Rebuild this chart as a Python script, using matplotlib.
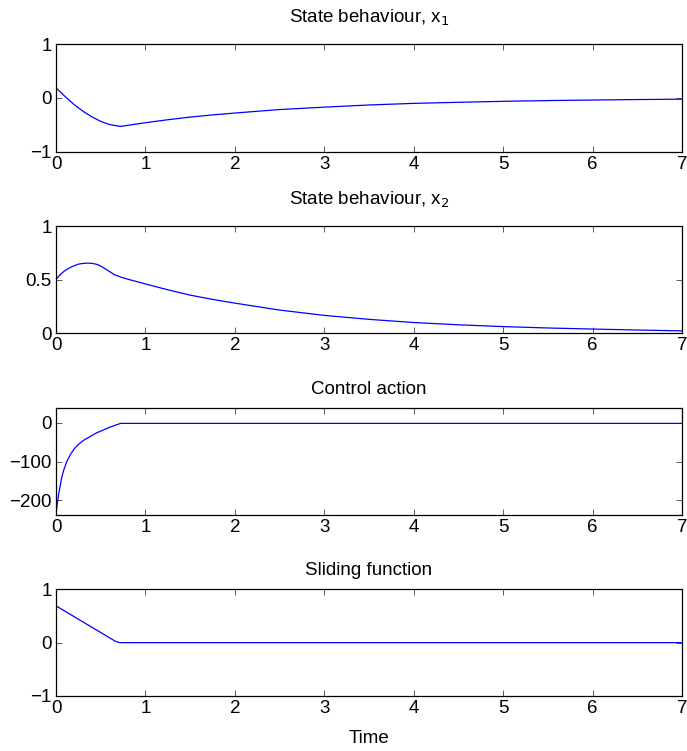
import matplotlib
matplotlib.use("Agg")
import matplotlib.pyplot as plt

plt.rcParams['font.family'] = ['Liberation Sans', 'DejaVu Sans']

# ---- data ----
t_x1 = [0, 0.1, 0.2, 0.3, 0.4, 0.5, 0.6, 0.72, 0.8, 1.0, 1.25, 1.5, 1.75, 2.0,
        2.5, 3.0, 3.5, 4.0, 4.5, 5.0, 5.5, 6.0, 6.5, 7.0]
x1 = [0.19, 0.03, -0.12, -0.245, -0.35, -0.435, -0.495, -0.53, -0.51, -0.46,
      -0.405, -0.355, -0.315, -0.28, -0.215, -0.17, -0.13, -0.10, -0.08,
      -0.062, -0.048, -0.038, -0.029, -0.022]

t_x2 = [0, 0.05, 0.1, 0.15, 0.2, 0.25, 0.3, 0.35, 0.4, 0.45, 0.5, 0.55, 0.6,
        0.65, 0.72, 0.8, 1.0, 1.25, 1.5, 1.75, 2.0, 2.5, 3.0, 3.5, 4.0, 4.5,
        5.0, 5.5, 6.0, 6.5, 7.0]
x2 = [0.50, 0.55, 0.585, 0.61, 0.63, 0.645, 0.652, 0.655, 0.653, 0.645, 0.628,
      0.602, 0.575, 0.548, 0.525, 0.505, 0.46, 0.405, 0.355, 0.315, 0.28,
      0.215, 0.165, 0.128, 0.098, 0.077, 0.06, 0.047, 0.037, 0.028, 0.02]

t_u = [0, 0.01, 0.03, 0.06, 0.085, 0.12, 0.16, 0.2, 0.234, 0.3, 0.383, 0.45,
       0.531, 0.6, 0.68, 0.725, 7.0]
u = [-238, -215, -184, -145, -123, -100, -82, -68, -59, -46, -35, -26, -18,
     -11, -4.3, -1, -1]

t_s = [0, 0.66, 0.70, 0.72, 7.0]
s = [0.69, 0.03, 0.004, 0.0, 0.0]

titles = ['State behaviour, x$_1$', 'State behaviour, x$_2$',
          'Control action', 'Sliding function']
ylims = [(-1, 1), (0, 1), (-238, 38), (-1, 1)]
yticks = [[-1, 0, 1], [0, 0.5, 1], [-200, -100, 0], [-1, 0, 1]]
ytick_labels = [['\u22121', '0', '1'], ['0', '0.5', '1'],
                ['\u2212200', '\u2212100', '0'], ['\u22121', '0', '1']]
xticks = [0, 1, 2, 3, 4, 5, 6, 7]

series = [(t_x1, x1), (t_x2, x2), (t_u, u), (t_s, s)]

W, H = 687, 751
fig = plt.figure(figsize=(W / 100, H / 100), dpi=100)

left = 56 / W
width = (682 - 56) / W
tops = [44.3, 226.3, 408.3, 589.3]
bots = [151.7, 333, 515, 696]
title_pads = [15.5, 15.5, 10.5, 10.5]

for i in range(4):
    b = 1 - bots[i] / H
    h = (bots[i] - tops[i]) / H
    ax = fig.add_axes([left, b, width, h])
    tt, vv = series[i]
    ax.plot(tt, vv, color='#0000ff', lw=0.9)
    ax.set_xlim(0, 7)
    ax.set_ylim(*ylims[i])
    ax.set_xticks(xticks)
    ax.set_xticklabels([str(v) for v in xticks])
    ax.set_yticks(yticks[i])
    ax.set_yticklabels(ytick_labels[i])
    ax.tick_params(direction='in', top=True, right=True, length=4.5,
                   width=0.6, labelsize=13.5, pad=3, color='#404040')
    for sp in ax.spines.values():
        sp.set_linewidth(0.9)
        sp.set_color('black')
    ax.set_title(titles[i], fontsize=13.5, pad=title_pads[i])
    if i == 3:
        ax.set_xlabel('Time', fontsize=13.5, labelpad=9)

fig.savefig('out.png', dpi=100)
